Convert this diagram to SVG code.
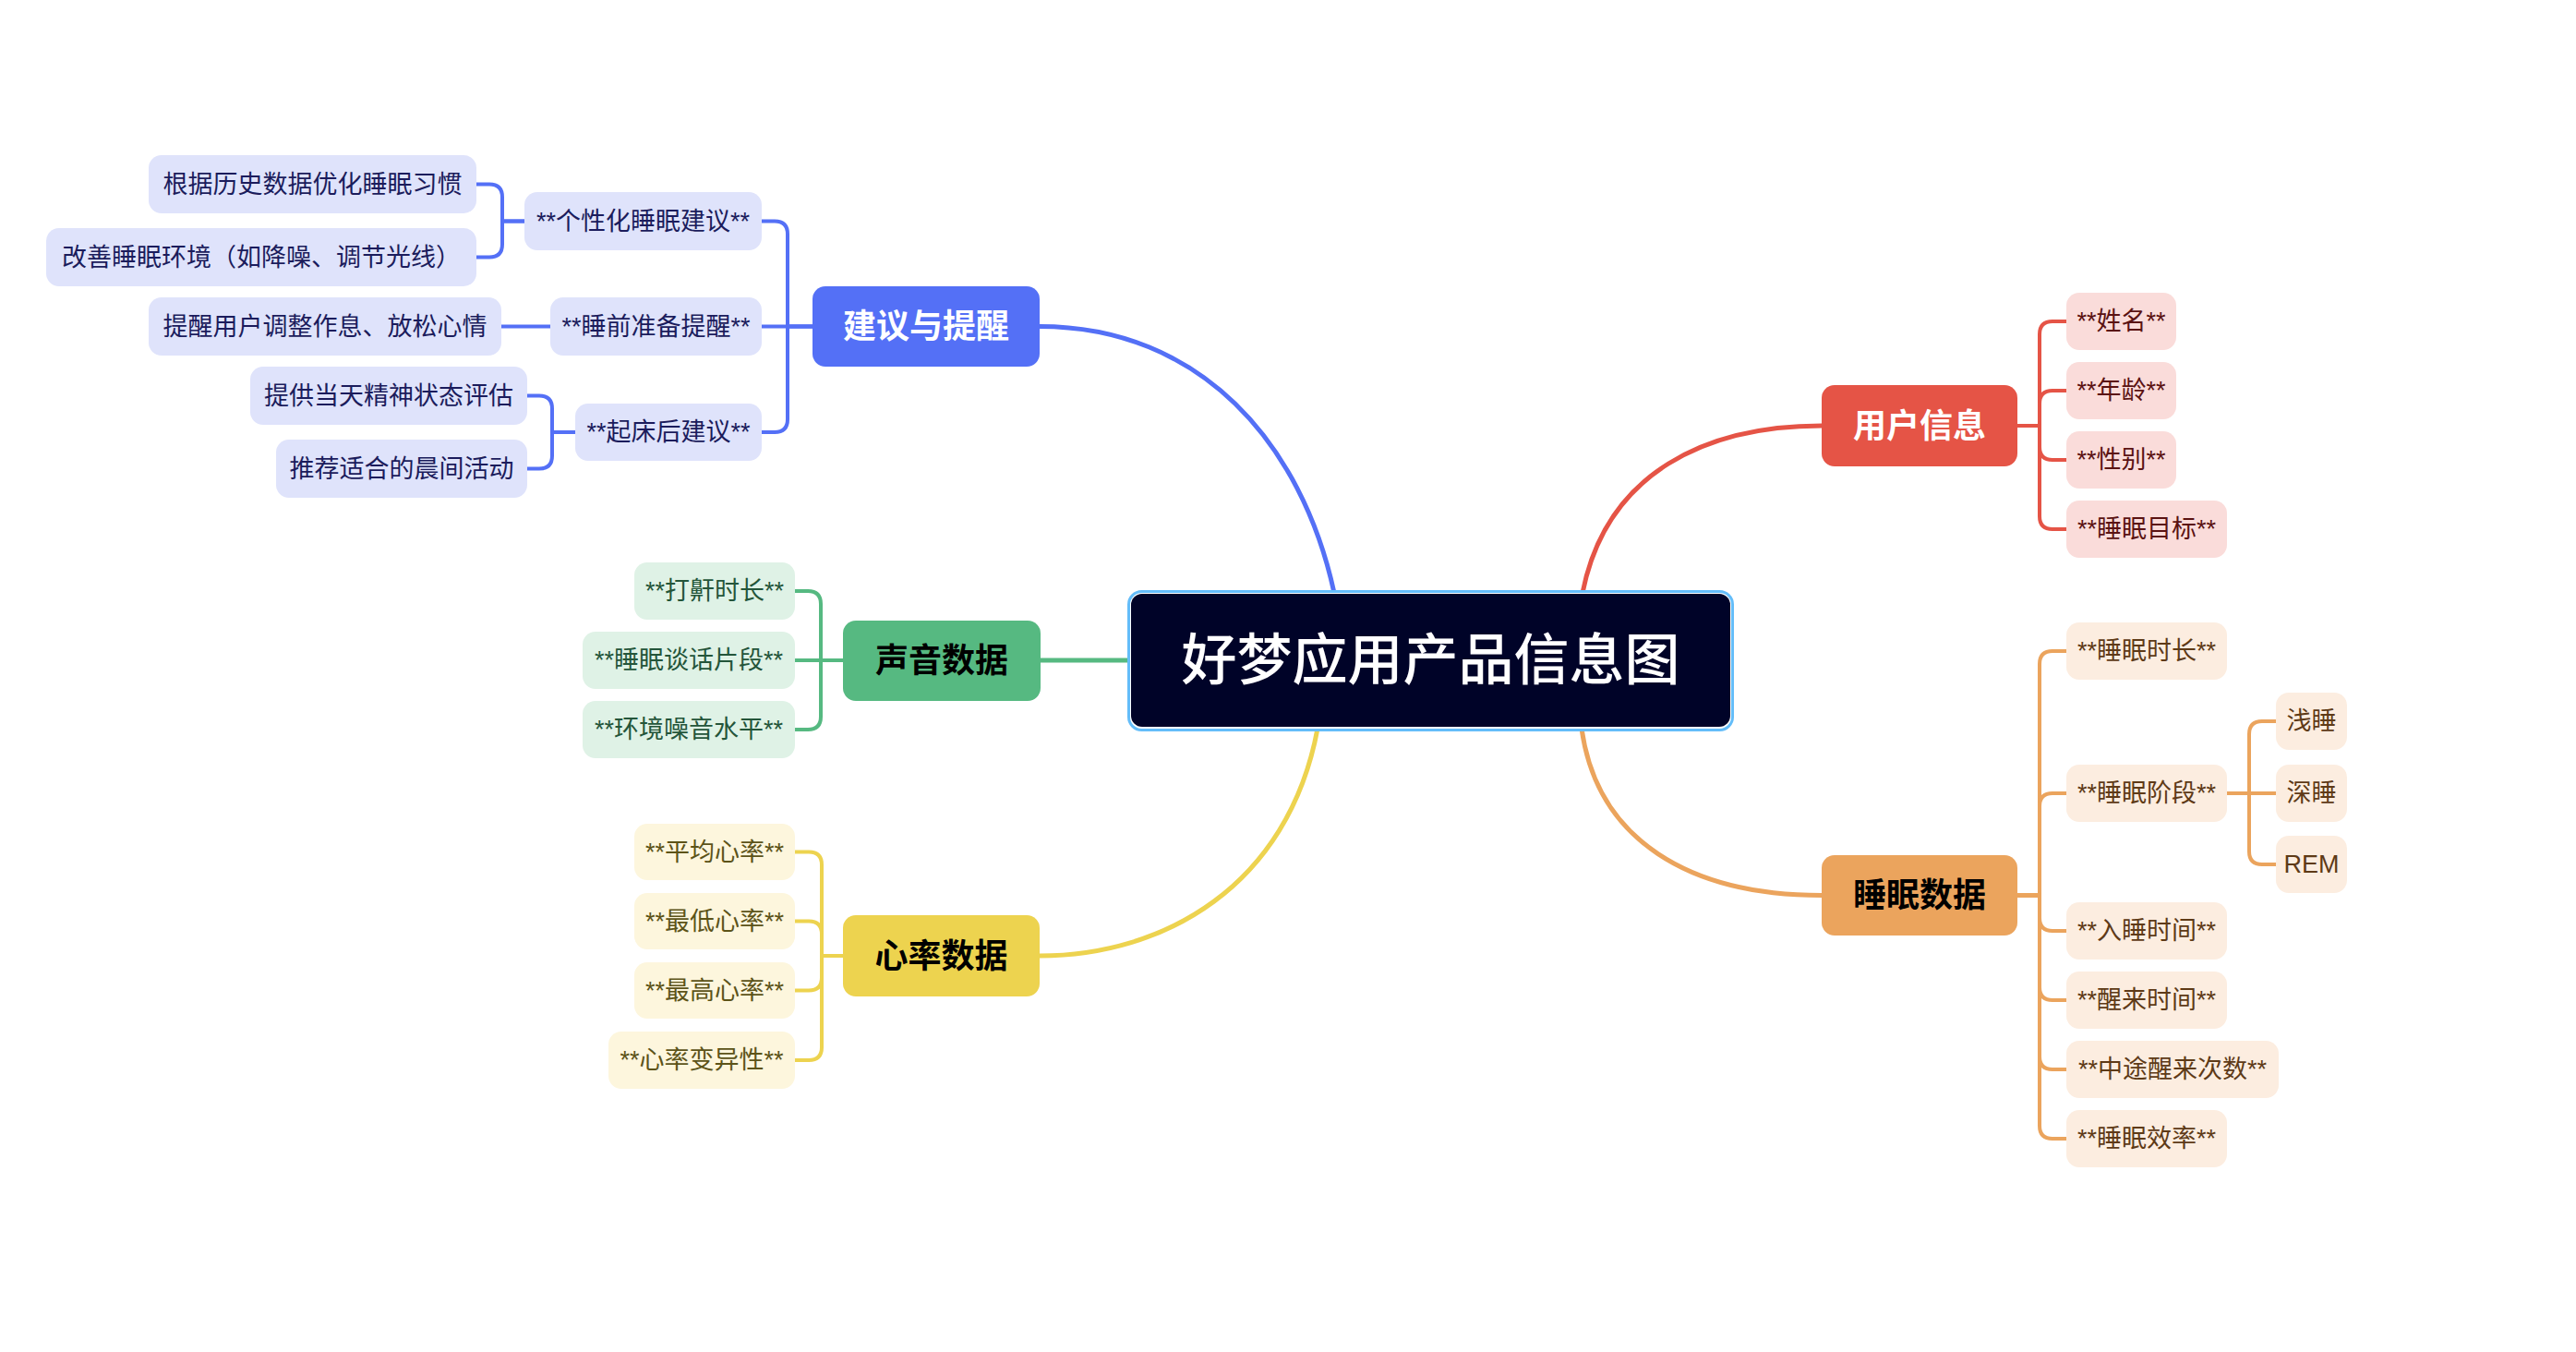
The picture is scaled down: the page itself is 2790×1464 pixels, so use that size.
<svg xmlns="http://www.w3.org/2000/svg" width="2790" height="1464" viewBox="0 0 2790 1464">
<style>
text{font-family:"Liberation Sans","Noto Sans CJK SC",sans-serif;text-anchor:middle;dominant-baseline:central}
.l1{font-size:36px;font-weight:700}
.l2{font-size:27px;font-weight:400}
.c{fill:none;stroke-width:4;stroke-linecap:round;stroke-linejoin:round}
.m{fill:none;stroke-width:5;stroke-linecap:round}
.cb{stroke:#5470F6}.cr{stroke:#E55446}.cg{stroke:#56B981}.cy{stroke:#EDD34F}.co{stroke:#EBA45D}
.fb{fill:#DFE3FB}.fr{fill:#FADCDA}.fg{fill:#DFF2E6}.fy{fill:#FDF6DD}.fo{fill:#FCEDE0}
.tb{fill:#1B1C5C}.tr{fill:#5A1212}.tg{fill:#24553A}.ty{fill:#5C5318}.to{fill:#5E3A17}
</style>
<rect width="2790" height="1464" fill="#FFFFFF"/>
<g id="connectors">
<path class="m cb" d="M1126 353.5 C1300 353.5 1410 480 1445 642"/>
<path class="m cr" d="M1714 642 C1740 510 1850 461 1973 461"/>
<path class="m cy" d="M1427 789 C1395 960 1260 1035 1126 1035"/>
<path class="m co" d="M1713 789 C1730 910 1830 969.5 1973 969.5"/>
<path class="m cg" d="M1127 715 H1223"/>
<path class="c cb" d="M880 353.5 H853 V253.5 Q853 239.5 839 239.5 H825"/>
<path class="c cb" d="M880 353.5 H825"/>
<path class="c cb" d="M880 353.5 H853 V454 Q853 468 839 468 H825"/>
<path class="c cb" d="M568 239.5 H544 V213.5 Q544 199.5 530 199.5 H516"/>
<path class="c cb" d="M568 239.5 H544 V264.5 Q544 278.5 530 278.5 H516"/>
<path class="c cb" d="M596 353.5 H543"/>
<path class="c cb" d="M623 468 H598 V442.5 Q598 428.5 584 428.5 H571"/>
<path class="c cb" d="M623 468 H598 V493.5 Q598 507.5 584 507.5 H571"/>
<path class="c cg" d="M913 715 H889 V654 Q889 640 875 640 H861"/>
<path class="c cg" d="M913 715 H861"/>
<path class="c cg" d="M913 715 H889 V776 Q889 790 875 790 H861"/>
<path class="c cy" d="M913 1035 H890 V936.5 Q890 922.5 876 922.5 H861"/>
<path class="c cy" d="M913 1035 H890 V1011.5 Q890 997.5 876 997.5 H861"/>
<path class="c cy" d="M913 1035 H890 V1058.5 Q890 1072.5 876 1072.5 H861"/>
<path class="c cy" d="M913 1035 H890 V1134 Q890 1148 876 1148 H861"/>
<path class="c cr" d="M2185 461 H2209 V362 Q2209 348 2223 348 H2238"/>
<path class="c cr" d="M2185 461 H2209 V437 Q2209 423 2223 423 H2238"/>
<path class="c cr" d="M2185 461 H2209 V484 Q2209 498 2223 498 H2238"/>
<path class="c cr" d="M2185 461 H2209 V559 Q2209 573 2223 573 H2238"/>
<path class="c co" d="M2185 969.5 H2209 V719 Q2209 705 2223 705 H2238"/>
<path class="c co" d="M2185 969.5 H2209 V873 Q2209 859 2223 859 H2238"/>
<path class="c co" d="M2185 969.5 H2209 V994 Q2209 1008 2223 1008 H2238"/>
<path class="c co" d="M2185 969.5 H2209 V1069 Q2209 1083 2223 1083 H2238"/>
<path class="c co" d="M2185 969.5 H2209 V1144 Q2209 1158 2223 1158 H2238"/>
<path class="c co" d="M2185 969.5 H2209 V1219 Q2209 1233 2223 1233 H2238"/>
<path class="c co" d="M2412 859 H2436 V795 Q2436 781 2450 781 H2465"/>
<path class="c co" d="M2412 859 H2465"/>
<path class="c co" d="M2412 859 H2436 V922 Q2436 936 2450 936 H2465"/>
</g>
<g id="center">
<rect x="1222.5" y="640.5" width="654" height="150" rx="14" fill="#FFFFFF" stroke="#64BDF9" stroke-width="3"/>
<rect x="1225" y="643" width="649" height="144" rx="12" fill="#000328"/>
<text x="1549.5" y="715.5" style="font-size:60px;font-weight:500" fill="#FFFFFF">好梦应用产品信息图</text>
</g>
<g id="n-jianyi">
<rect x="880" y="310" width="246" height="87" rx="14" fill="#5470F6"/>
<text class="l1" x="1003" y="353.5" fill="#FFFFFF">建议与提醒</text>
</g>
<g id="n-gexinghua">
<rect class="fb" x="568" y="208" width="257" height="63" rx="14"/>
<text class="l2 tb" x="696.5" y="239.5">**个性化睡眠建议**</text>
</g>
<g id="n-genju">
<rect class="fb" x="161" y="168" width="355" height="63" rx="14"/>
<text class="l2 tb" x="338.5" y="199.5">根据历史数据优化睡眠习惯</text>
</g>
<g id="n-gaishan">
<rect class="fb" x="50" y="247" width="466" height="63" rx="14"/>
<text class="l2 tb" x="283" y="278.5">改善睡眠环境（如降噪、调节光线）</text>
</g>
<g id="n-shuiqian">
<rect class="fb" x="596" y="322" width="229" height="63" rx="14"/>
<text class="l2 tb" x="710.5" y="353.5">**睡前准备提醒**</text>
</g>
<g id="n-tixing">
<rect class="fb" x="161" y="322" width="382" height="63" rx="14"/>
<text class="l2 tb" x="352" y="353.5">提醒用户调整作息、放松心情</text>
</g>
<g id="n-qichuang">
<rect class="fb" x="623" y="437" width="202" height="62" rx="14"/>
<text class="l2 tb" x="724" y="468">**起床后建议**</text>
</g>
<g id="n-tigong">
<rect class="fb" x="271" y="397" width="300" height="63" rx="14"/>
<text class="l2 tb" x="421" y="428.5">提供当天精神状态评估</text>
</g>
<g id="n-tuijian">
<rect class="fb" x="299" y="476" width="272" height="63" rx="14"/>
<text class="l2 tb" x="435" y="507.5">推荐适合的晨间活动</text>
</g>
<g id="n-shengyin">
<rect x="913" y="672" width="214" height="87" rx="14" fill="#56B981"/>
<text class="l1" x="1020" y="715.5" fill="#000000">声音数据</text>
</g>
<g id="n-dahan">
<rect class="fg" x="687" y="609" width="174" height="62" rx="14"/>
<text class="l2 tg" x="774" y="640">**打鼾时长**</text>
</g>
<g id="n-tanhua">
<rect class="fg" x="631" y="684" width="230" height="62" rx="14"/>
<text class="l2 tg" x="746" y="715">**睡眠谈话片段**</text>
</g>
<g id="n-zaoyin">
<rect class="fg" x="631" y="759" width="230" height="62" rx="14"/>
<text class="l2 tg" x="746" y="790">**环境噪音水平**</text>
</g>
<g id="n-xinlv">
<rect x="913" y="991" width="213" height="88" rx="14" fill="#EDD34F"/>
<text class="l1" x="1019.5" y="1035" fill="#000000">心率数据</text>
</g>
<g id="n-pingjun">
<rect class="fy" x="687" y="892" width="174" height="61" rx="14"/>
<text class="l2 ty" x="774" y="922.5">**平均心率**</text>
</g>
<g id="n-zuidi">
<rect class="fy" x="687" y="967" width="174" height="61" rx="14"/>
<text class="l2 ty" x="774" y="997.5">**最低心率**</text>
</g>
<g id="n-zuigao">
<rect class="fy" x="687" y="1042" width="174" height="61" rx="14"/>
<text class="l2 ty" x="774" y="1072.5">**最高心率**</text>
</g>
<g id="n-bianyi">
<rect class="fy" x="659" y="1117" width="202" height="62" rx="14"/>
<text class="l2 ty" x="760" y="1148">**心率变异性**</text>
</g>
<g id="n-yonghu">
<rect x="1973" y="417" width="212" height="88" rx="14" fill="#E55446"/>
<text class="l1" x="2079" y="461" fill="#FFFFFF">用户信息</text>
</g>
<g id="n-xingming">
<rect class="fr" x="2238" y="317" width="119" height="62" rx="14"/>
<text class="l2 tr" x="2297.5" y="348">**姓名**</text>
</g>
<g id="n-nianling">
<rect class="fr" x="2238" y="392" width="119" height="62" rx="14"/>
<text class="l2 tr" x="2297.5" y="423">**年龄**</text>
</g>
<g id="n-xingbie">
<rect class="fr" x="2238" y="467" width="119" height="62" rx="14"/>
<text class="l2 tr" x="2297.5" y="498">**性别**</text>
</g>
<g id="n-mubiao">
<rect class="fr" x="2238" y="542" width="174" height="62" rx="14"/>
<text class="l2 tr" x="2325" y="573">**睡眠目标**</text>
</g>
<g id="n-shuimian">
<rect x="1973" y="926" width="212" height="87" rx="14" fill="#EBA45D"/>
<text class="l1" x="2079" y="969.5" fill="#000000">睡眠数据</text>
</g>
<g id="n-shichang">
<rect class="fo" x="2238" y="674" width="174" height="62" rx="14"/>
<text class="l2 to" x="2325" y="705">**睡眠时长**</text>
</g>
<g id="n-jieduan">
<rect class="fo" x="2238" y="828" width="174" height="62" rx="14"/>
<text class="l2 to" x="2325" y="859">**睡眠阶段**</text>
</g>
<g id="n-qianshui">
<rect class="fo" x="2465" y="750" width="77" height="62" rx="14"/>
<text class="l2 to" x="2503.5" y="781">浅睡</text>
</g>
<g id="n-shenshui">
<rect class="fo" x="2465" y="828" width="77" height="62" rx="14"/>
<text class="l2 to" x="2503.5" y="859">深睡</text>
</g>
<g id="n-rem">
<rect class="fo" x="2465" y="905" width="77" height="62" rx="14"/>
<text class="l2 to" x="2503.5" y="936">REM</text>
</g>
<g id="n-rushui">
<rect class="fo" x="2238" y="977" width="174" height="62" rx="14"/>
<text class="l2 to" x="2325" y="1008">**入睡时间**</text>
</g>
<g id="n-xinglai">
<rect class="fo" x="2238" y="1052" width="174" height="62" rx="14"/>
<text class="l2 to" x="2325" y="1083">**醒来时间**</text>
</g>
<g id="n-zhongtu">
<rect class="fo" x="2238" y="1127" width="230" height="62" rx="14"/>
<text class="l2 to" x="2353" y="1158">**中途醒来次数**</text>
</g>
<g id="n-xiaolv">
<rect class="fo" x="2238" y="1202" width="174" height="62" rx="14"/>
<text class="l2 to" x="2325" y="1233">**睡眠效率**</text>
</g>
</svg>
